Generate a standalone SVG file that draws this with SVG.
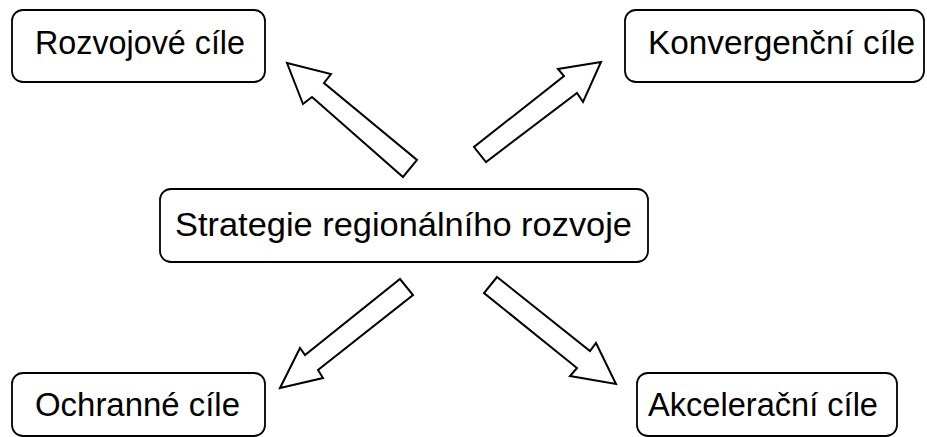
<svg xmlns="http://www.w3.org/2000/svg" width="927" height="437" viewBox="0 0 927 437">
<style>
.box{fill:#fff;stroke:#000;stroke-width:1.8}
.lbl{font-family:"Liberation Sans",Arial,sans-serif;font-size:33px;fill:#000}
.arr{fill:#fff;stroke:#000;stroke-width:2;stroke-linejoin:miter}
</style>
<rect width="927" height="437" fill="#fff"/>
<g id="rozvojove">
<rect class="box" x="12" y="10" width="253" height="72" rx="11"/>
<text class="lbl" x="35" y="54" textLength="210" lengthAdjust="spacingAndGlyphs">Rozvojové cíle</text>
</g>
<g id="konvergencni">
<rect class="box" x="625" y="10" width="299" height="72" rx="11"/>
<text class="lbl" x="648" y="54" textLength="267" lengthAdjust="spacingAndGlyphs">Konvergenční cíle</text>
</g>
<g id="strategie">
<rect class="box" x="160" y="189" width="488" height="73" rx="11"/>
<text class="lbl" x="175" y="236" textLength="457" lengthAdjust="spacingAndGlyphs">Strategie regionálního rozvoje</text>
</g>
<g id="ochranne">
<rect class="box" x="12" y="373" width="253" height="63" rx="11"/>
<text class="lbl" x="35" y="416" textLength="205" lengthAdjust="spacingAndGlyphs">Ochranné cíle</text>
</g>
<g id="akceleracni">
<rect class="box" x="637" y="373" width="260" height="63" rx="11"/>
<text class="lbl" x="648" y="416" textLength="230" lengthAdjust="spacingAndGlyphs">Akcelerační cíle</text>
</g>
<g id="connectors">
<polygon class="arr" points="287,63 331,74 324,83 417,160 403,177 312,97 303,104"/>
<polygon class="arr" points="601,62 558,69 564,76 474,147 486,162 577,93 583,102"/>
<polygon class="arr" points="280,388 300,348 305,355 400,279 413,295 318,370 323,378"/>
<polygon class="arr" points="497,277 590,351 596,343 616,384 570,376 577,368 484,293"/>
</g>
</svg>
